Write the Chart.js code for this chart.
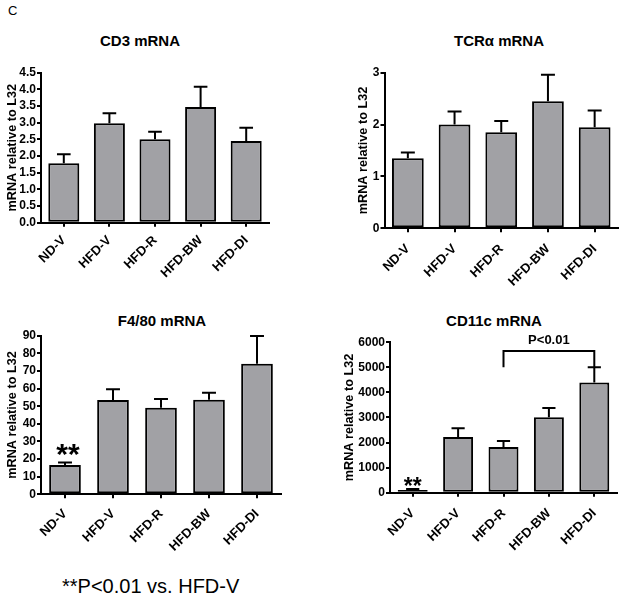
<!DOCTYPE html>
<html><head><meta charset="utf-8">
<script src="https://cdn.jsdelivr.net/npm/chart.js@4.4.1/dist/chart.umd.min.js"></script>
<style>
body{margin:0;background:#fff;width:624px;height:599px;position:relative;overflow:hidden;font-family:"Liberation Sans",Arial,sans-serif;color:#000;}
canvas{position:absolute;}
.t{position:absolute;transform:translate(-50%,-50%);font-weight:bold;font-size:15px;line-height:1;white-space:nowrap;}
</style></head><body>
<div style="position:absolute;left:8px;top:4px;font-size:13px;line-height:1;">C</div>
<div class="t" style="left:140px;top:40px;">CD3 mRNA</div>
<div class="t" style="left:499px;top:40px;">TCRα mRNA</div>
<div class="t" style="left:162px;top:320px;">F4/80 mRNA</div>
<div class="t" style="left:494px;top:320px;">CD11c mRNA</div>
<div style="position:absolute;left:62px;top:586px;transform:translateY(-50%);font-size:20px;line-height:1;white-space:nowrap;">**P&lt;0.01 vs. HFD-V</div>
<canvas id="c1" width="312" height="300" style="left:0;top:0"></canvas>
<canvas id="c2" width="312" height="300" style="left:312px;top:0"></canvas>
<canvas id="c3" width="312" height="270" style="left:0;top:300px"></canvas>
<canvas id="c4" width="312" height="270" style="left:312px;top:300px"></canvas>
<script>
// ---- data ----
const categories = ['ND-V', 'HFD-V', 'HFD-R', 'HFD-BW', 'HFD-DI'];
const cd3Mean = [1.78, 2.98, 2.50, 3.47, 2.45];
const cd3Err  = [0.27, 0.30, 0.23, 0.61, 0.40];
const tcrMean = [1.35, 2.00, 1.85, 2.45, 1.95];
const tcrErr  = [0.11, 0.25, 0.22, 0.51, 0.32];
const f480Mean = [16.6, 53.5, 49.1, 53.7, 74.1];
const f480Err  = [1.5, 6.1, 5.0, 3.9, 15.7];
const cd11cMean = [110, 2220, 1820, 3010, 4400];
const cd11cErr  = [40, 350, 240, 370, 600];
const yTitle = 'mRNA relative to L32';
const starLabel = '**';
const pLabel = 'P<0.01';
const bracketPair = ['HFD-R', 'HFD-DI'];
const bracketLevel = 5650;
const bracketLeftEnd = 5000;

const FONT = '"Liberation Sans", Arial, sans-serif';
const BAR = '#a1a1a5';

const errorBars = {
  id: 'errorBars',
  afterDatasetsDraw(chart) {
    const ctx = chart.ctx, ds = chart.data.datasets[0], meta = chart.getDatasetMeta(0), y = chart.scales.y;
    ctx.save(); ctx.strokeStyle = '#000'; ctx.lineWidth = 2;
    meta.data.forEach((bar, i) => {
      const top = y.getPixelForValue(ds.data[i] + ds.errors[i]);
      const half = bar.width * 0.22;
      ctx.beginPath();
      ctx.moveTo(bar.x, bar.y); ctx.lineTo(bar.x, top);
      ctx.moveTo(bar.x - half, top); ctx.lineTo(bar.x + half, top);
      ctx.stroke();
    });
    ctx.restore();
  }
};

const annot = {
  id: 'annot',
  afterDatasetsDraw(chart, args, opts) {
    const ctx = chart.ctx, ds = chart.data.datasets[0], meta = chart.getDatasetMeta(0), y = chart.scales.y, x = chart.scales.x;
    ctx.save();
    if (opts.star) {
      const i = categories.indexOf(opts.star.cat);
      const errTop = y.getPixelForValue(ds.data[i] + ds.errors[i]);
      ctx.font = 'bold ' + opts.star.size + 'px ' + FONT;
      ctx.textAlign = 'center'; ctx.textBaseline = 'alphabetic'; ctx.fillStyle = '#000';
      const m = ctx.measureText(starLabel);
      const center = errTop - opts.star.gap;
      const base = center - (m.actualBoundingBoxDescent - m.actualBoundingBoxAscent) / 2;
      ctx.fillText(starLabel, meta.data[i].x + opts.star.dx, base);
    }
    if (opts.bracket) {
      const a = categories.indexOf(bracketPair[0]), b = categories.indexOf(bracketPair[1]);
      const xa = x.getPixelForValue(a), xb = x.getPixelForValue(b);
      const yt = y.getPixelForValue(bracketLevel);
      const ya = y.getPixelForValue(bracketLeftEnd);
      const yb = y.getPixelForValue(ds.data[b] + ds.errors[b]);
      ctx.strokeStyle = '#000'; ctx.lineWidth = 2;
      ctx.beginPath(); ctx.moveTo(xa, ya); ctx.lineTo(xa, yt); ctx.lineTo(xb, yt); ctx.lineTo(xb, yb); ctx.stroke();
      ctx.font = 'bold 13px ' + FONT; ctx.fillStyle = '#000';
      ctx.textAlign = 'center'; ctx.textBaseline = 'middle';
      ctx.fillText(pLabel, (xa + xb) / 2, yt - 11);
    }
    ctx.restore();
  }
};

function makeChart(id, mean, err, cfg) {
  return new Chart(document.getElementById(id), {
    type: 'bar',
    data: { labels: categories, datasets: [{ data: mean, errors: err, backgroundColor: BAR, borderColor: '#000', borderWidth: 2, borderSkipped: false, barPercentage: cfg.barPct, categoryPercentage: 1 }] },
    plugins: [errorBars, annot],
    options: {
      responsive: false, animation: false, devicePixelRatio: 1,
      layout: { padding: cfg.pad },
      plugins: { legend: { display: false }, tooltip: { enabled: false }, title: { display: false }, annot: cfg.annot || {} },
      scales: {
        x: {
          afterFit: s => { s.height = cfg.xH; },
          border: { color: '#000', width: 2 },
          grid: { display: true, drawOnChartArea: false, drawTicks: true, tickLength: 4, offset: false, color: '#000', lineWidth: 2 },
          ticks: { autoSkip: false, minRotation: 45, maxRotation: 45, color: '#000', padding: cfg.xPad, font: { family: FONT, size: 13, weight: 'bold' } }
        },
        y: {
          min: 0, max: cfg.max,
          afterFit: s => { s.width = cfg.yW; },
          border: { color: '#000', width: 2 },
          grid: { display: true, drawOnChartArea: false, drawTicks: true, tickLength: 4, color: '#000', lineWidth: 2 },
          ticks: { autoSkip: false, stepSize: cfg.step, color: '#000', padding: 1, font: { family: FONT, size: 12, weight: 'bold' }, callback: cfg.fmt },
          title: { display: true, text: yTitle, color: '#000', font: { family: FONT, size: 12.7, weight: 'bold' }, padding: { top: cfg.yTitlePad, bottom: 0 } }
        }
      }
    }
  });
}

makeChart('c1', cd3Mean, cd3Err, { barPct: 0.68, pad: { top: 72.7, left: 0, right: 43, bottom: 0 }, xH: 77.3, yW: 41, max: 4.5, step: 0.5, fmt: v => v.toFixed(1), yTitlePad: 4.4, xPad: 6 });
makeChart('c2', tcrMean, tcrErr, { barPct: 0.68, pad: { top: 72.7, left: 0, right: 6, bottom: 0 }, xH: 71.7, yW: 72.5, max: 3, step: 1, fmt: v => v, yTitlePad: 43.4, xPad: 9 });
makeChart('c3', f480Mean, f480Err, { barPct: 0.66, pad: { top: 35.7, left: 0, right: 31, bottom: 0 }, xH: 75.7, yW: 41, max: 90, step: 10, fmt: v => v, yTitlePad: 4.4, xPad: 8, annot: { star: { cat: 'ND-V', size: 30, gap: 12, dx: 3 } } });
makeChart('c4', cd11cMean, cd11cErr, { barPct: 0.66, pad: { top: 42.3, left: 0, right: 7, bottom: 0 }, xH: 77.3, yW: 78, max: 6000, step: 1000, fmt: v => v, yTitlePad: 29.7, xPad: 9, annot: { star: { cat: 'ND-V', size: 23, gap: 7, dx: 0 }, bracket: true } });
</script>
</body></html>
